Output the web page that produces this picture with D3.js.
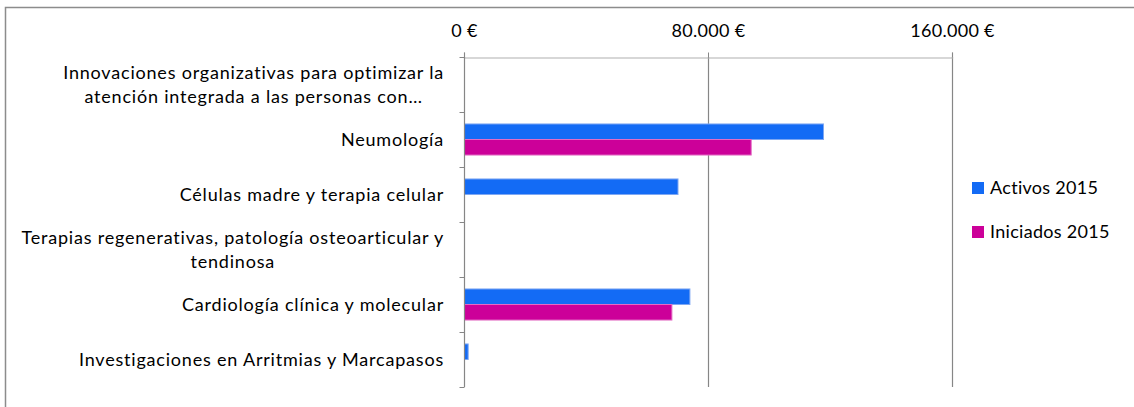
<!DOCTYPE html>
<html>
<head>
<meta charset="utf-8">
<script src="https://cdn.jsdelivr.net/npm/d3@7"></script>
<style>
  body { margin: 0; background: #fff; }
  text { font-family: Lato, "Open Sans", sans-serif; fill: #000; }
</style>
</head>
<body>
<div id="chart"></div>
<script>
// chart data
var categories = [
  "Innovaciones organizativas para optimizar la\natención integrada a las personas con…",
  "Neumología",
  "Células madre y terapia celular",
  "Terapias regenerativas, patología osteoarticular y\ntendinosa",
  "Cardiología clínica y molecular",
  "Investigaciones en Arritmias y Marcapasos"
];
var seriesNames = ["Activos 2015", "Iniciados 2015"];
var activos = [0, 117700, 70000, 0, 73900, 1200];
var iniciados = [0, 94000, 0, 0, 68000, 0];
var tickValues = [0, 80000, 160000];

var colors = ["#136BF5", "#CC0099"];
var strokes = ["#7EA7F2", "#E36CC4"];

var w = 1134, h = 407;
var fontSize = 18;
var spacing = "0.8px";

var svg = d3.select("#chart").append("svg")
  .attr("width", w)
  .attr("height", h);

// outer frame (only left and top visible)
svg.append("path")
  .attr("d", "M5.5," + h + "V7.5H" + w)
  .attr("fill", "none")
  .attr("stroke", "#8c8c8c")
  .attr("stroke-width", 1.5);

var x = d3.scaleLinear().domain([0, 160000]).range([464, 952]);
var y = d3.scaleBand().domain(d3.range(categories.length)).range([57, 387]);
var inner = d3.scaleBand().domain([0, 1]).range([0, y.bandwidth()]).paddingOuter(0.77).paddingInner(0);

var fmt = function(v) {
  return d3.format(",")(v).replace(/,/g, ".") + " €";
};

// gridlines
svg.append("g").selectAll("line")
  .data(tickValues.slice(1))
  .join("line")
  .attr("x1", function(d) { return x(d) + 0.5; })
  .attr("x2", function(d) { return x(d) + 0.5; })
  .attr("y1", 57)
  .attr("y2", 387)
  .attr("stroke", "#868686")
  .attr("stroke-width", 1.2);

// top axis
var xAxis = svg.append("g")
  .attr("transform", "translate(0,57.5)")
  .call(d3.axisTop(x).tickValues(tickValues).tickFormat(fmt).tickSize(5).tickPadding(16));
xAxis.select(".domain").attr("stroke", "#b0b0b0").attr("stroke-width", 1.2);
xAxis.selectAll(".tick line").attr("stroke", "#868686");
xAxis.selectAll("text")
  .style("font-family", "Lato, sans-serif")
  .style("font-size", fontSize + "px")
  .style("letter-spacing", "0.3px")
  .attr("fill", "#000");

// bars
var series = [activos, iniciados];
series.forEach(function(vals, s) {
  var rows = vals.map(function(v, i) { return { i: i, v: v }; })
    .filter(function(d) { return d.v > 0; });
  svg.append("g").selectAll("rect")
    .data(rows)
    .join("rect")
    .attr("x", x(0) + 0.5)
    .attr("y", function(d) { return y(d.i) + inner(s); })
    .attr("width", function(d) { return x(d.v) - x(0); })
    .attr("height", inner.bandwidth())
    .attr("fill", colors[s])
    .attr("stroke", strokes[s])
    .attr("stroke-width", 1);
});

// vertical category axis
var yAxis = svg.append("g")
  .attr("transform", "translate(464.5,0)");
yAxis.append("line")
  .attr("y1", 57).attr("y2", 387)
  .attr("stroke", "#868686").attr("stroke-width", 1.2);
yAxis.selectAll(".ctick")
  .data(d3.range(categories.length + 1))
  .join("line")
  .attr("x1", -5).attr("x2", 0)
  .attr("y1", function(i) { return Math.round(57 + i * y.step()) + 0.5; })
  .attr("y2", function(i) { return Math.round(57 + i * y.step()) + 0.5; })
  .attr("stroke", "#868686");

// category labels
var labels = svg.append("g").selectAll("text")
  .data(categories)
  .join("text")
  .attr("text-anchor", "end")
  .style("font-size", fontSize + "px")
  .style("letter-spacing", spacing)
  .attr("transform", function(d, i) { return "translate(444," + (y(i) + y.bandwidth() / 2) + ")"; });
labels.each(function(d) {
  var lines = d.split("\n");
  var t = d3.select(this);
  var lh = 24;
  lines.forEach(function(line, k) {
    t.append("tspan")
      .attr("x", 0)
      .attr("y", (k - (lines.length - 1) / 2) * lh)
      .attr("dy", "0.36em")
      .text(line);
  });
});

// wrapped lines are centred under the first line, like Excel
labels.each(function(d) {
  var spans = d3.select(this).selectAll("tspan").nodes();
  if (spans.length < 2) return;
  var w0 = spans[0].getComputedTextLength();
  spans.forEach(function(sp, k) {
    if (k === 0) return;
    var wk = sp.getComputedTextLength();
    d3.select(sp).attr("x", -(w0 - wk) / 2);
  });
});

// legend
var legend = svg.append("g").selectAll("g")
  .data(seriesNames)
  .join("g")
  .attr("transform", function(d, i) { return "translate(972," + (182 + i * 44) + ")"; });
legend.append("rect")
  .attr("width", 12).attr("height", 12)
  .attr("fill", function(d, i) { return colors[i]; });
legend.append("text")
  .attr("x", 18).attr("y", 6)
  .attr("dy", "0.36em")
  .style("font-size", fontSize + "px")
  .style("letter-spacing", "0.3px")
  .text(function(d) { return d; });
</script>
</body>
</html>
